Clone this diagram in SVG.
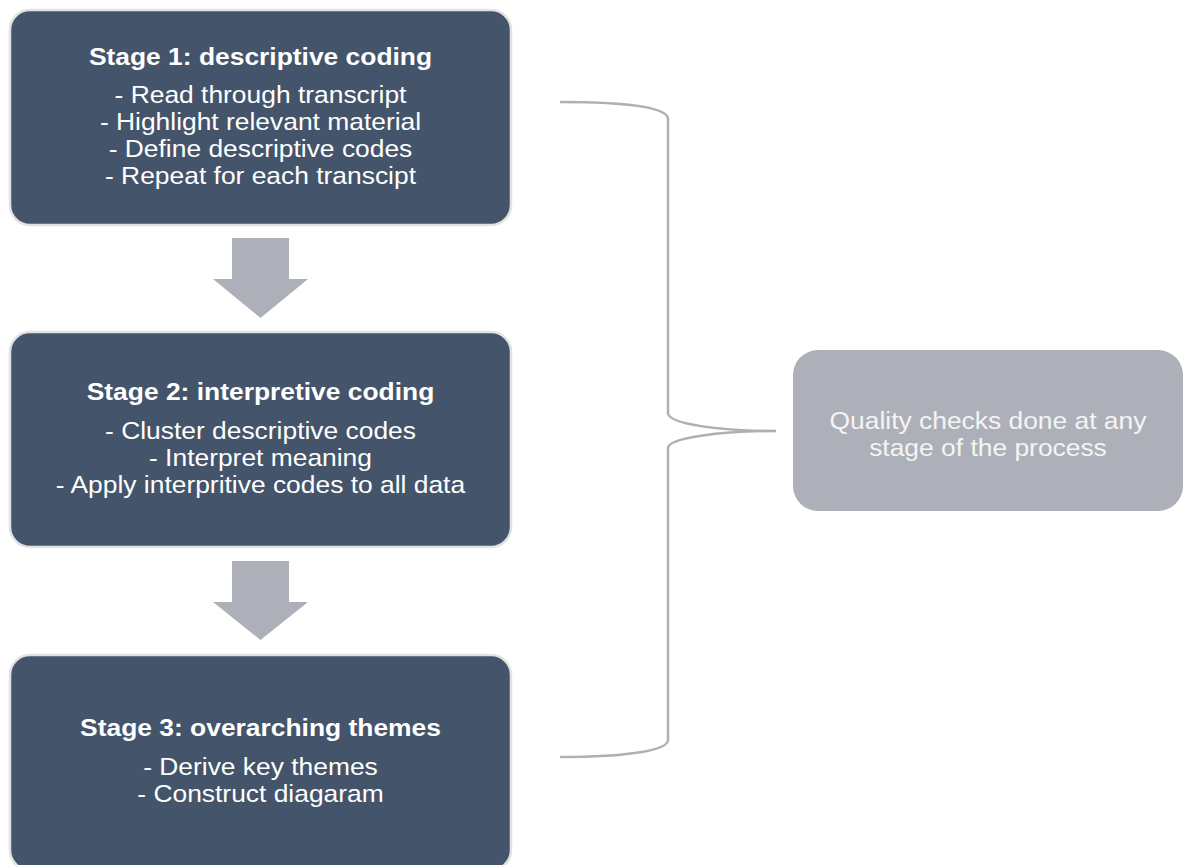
<svg xmlns="http://www.w3.org/2000/svg" width="1187" height="865" viewBox="0 0 1187 865">
  <style>
    .stage { fill: #44546A; stroke: #E2E2E2; stroke-width: 2.5; }
    .title { font-family: "Liberation Sans", Arial, sans-serif; font-size: 24px; font-weight: bold; fill: #FFFFFF; text-anchor: middle; }
    .body { font-family: "Liberation Sans", Arial, sans-serif; font-size: 24px; fill: #FFFFFF; text-anchor: middle; }
    .flow { fill: #ADB0B8; }
    .brace { fill: none; stroke: #ADB0B8; stroke-width: 2.5; }
    .check { fill: #ADB0B8; }
    .checktext { font-family: "Liberation Sans", Arial, sans-serif; font-size: 24px; fill: #F4F4F4; text-anchor: middle; }
  </style>

  <!-- labels are set slightly wide: each text block is stretched 1.1x about its centre line -->
  <g id="stage1">
    <rect class="stage" x="10" y="10" width="501" height="215" rx="20" ry="20"/>
    <g transform="matrix(1.1,0,0,1,-26.05,0)">
      <text class="title" x="260.5" y="65">Stage 1: descriptive coding</text>
      <text class="body" x="260.5" y="103">- Read through transcript</text>
      <text class="body" x="260.5" y="130">- Highlight relevant material</text>
      <text class="body" x="260.5" y="157">- Define descriptive codes</text>
      <text class="body" x="260.5" y="184">- Repeat for each transcipt</text>
    </g>
  </g>

  <g id="stage2">
    <rect class="stage" x="10" y="332" width="501" height="215" rx="20" ry="20"/>
    <g transform="matrix(1.1,0,0,1,-26.05,0)">
      <text class="title" x="260.5" y="400.5">Stage 2: interpretive coding</text>
      <text class="body" x="260.5" y="439">- Cluster descriptive codes</text>
      <text class="body" x="260.5" y="466">- Interpret meaning</text>
      <text class="body" x="260.5" y="493">- Apply interpritive codes to all data</text>
    </g>
  </g>

  <g id="stage3">
    <rect class="stage" x="10" y="655" width="501" height="215" rx="20" ry="20"/>
    <g transform="matrix(1.1,0,0,1,-26.05,0)">
      <text class="title" x="260.5" y="736">Stage 3: overarching themes</text>
      <text class="body" x="260.5" y="775">- Derive key themes</text>
      <text class="body" x="260.5" y="802">- Construct diagaram</text>
    </g>
  </g>

  <g id="quality">
    <rect class="check" x="793" y="350" width="390" height="161" rx="25" ry="25"/>
    <g transform="matrix(1.1,0,0,1,-98.8,0)">
      <text class="checktext" x="988" y="429">Quality checks done at any</text>
      <text class="checktext" x="988" y="456">stage of the process</text>
    </g>
  </g>

  <g id="connectors">
    <polygon class="flow" points="232,238 289,238 289,279 308,279 260.5,318 213,279 232,279"/>
    <polygon class="flow" points="232,561 289,561 289,602 308,602 260.5,640 213,602 232,602"/>
    <path class="brace" d="M560,102 C630,102 668,108 668,119 L668,413 C668,424 720,431 776,431 C720,431 668,438 668,448 L668,740 C668,750 630,757 560,757"/>
  </g>
</svg>
